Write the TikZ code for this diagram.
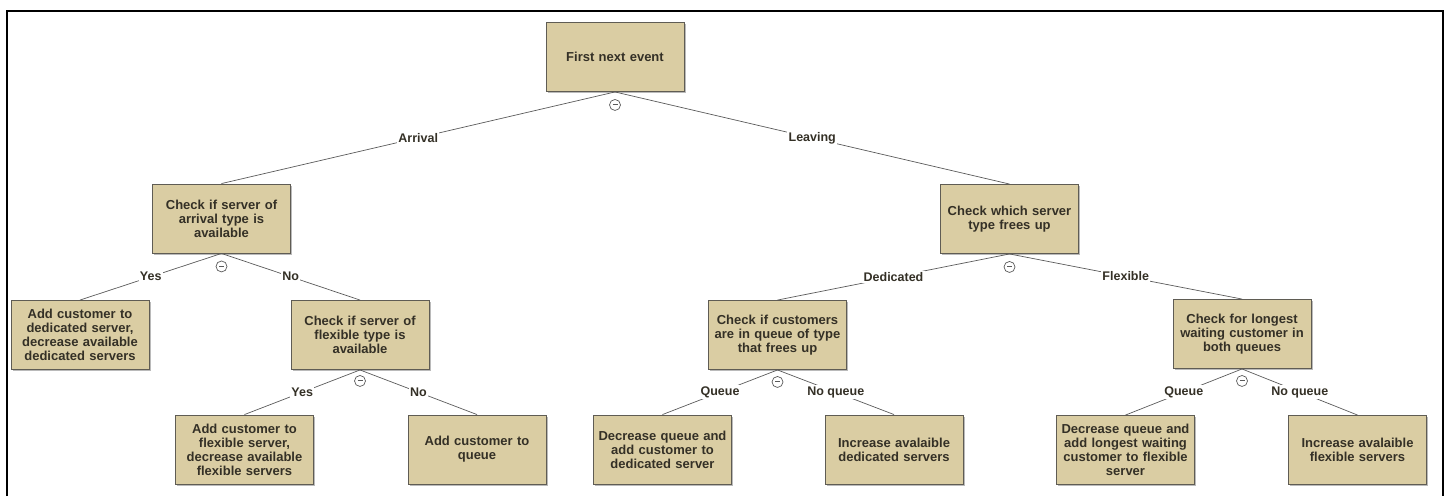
\documentclass[tikz,border=0pt]{standalone}
\usepackage{fontspec}
\setmainfont{Liberation Sans}
\usetikzlibrary{shadows}
\definecolor{boxfill}{RGB}{218,205,163}
\definecolor{boxedge}{RGB}{95,92,84}
\definecolor{txt}{RGB}{52,48,38}
\definecolor{linec}{RGB}{90,90,90}
\begin{document}
\begin{tikzpicture}[x=1pt,y=-1pt,
  box/.style={draw=boxedge, fill=boxfill, line width=0.9pt,
    minimum width=138pt, minimum height=69pt, text width=134pt,
    align=center, inner sep=0pt, text=txt,
    font=\bfseries\fontsize{13}{14}\selectfont,
    drop shadow={shadow xshift=1.5pt, shadow yshift=-1.5pt, fill=black!45, opacity=0.6}},
  edge/.style={draw=linec, line width=0.7pt},
  lab/.style={fill=white, text=txt, inner sep=1.2pt,
    font=\bfseries\fontsize{12.5}{14}\selectfont},
  collapse/.style={circle, draw=linec, line width=0.7pt, minimum size=11pt, inner sep=0pt,
    path picture={\draw[linec, line width=1pt]
      ([xshift=-2.5pt]path picture bounding box.center) -- ([xshift=2.5pt]path picture bounding box.center);}}]
\useasboundingbox (0,0) rectangle (1447,496);

% frame
\draw[black, line width=2pt] (7,496) -- (7,11) -- (1443,11) -- (1443,496);

% boxes
\node[box] (root) at (615,57) {First next event};
\node[box] (arr) at (221.5,218.5) {Check if server of\\arrival type is\\available};
\node[box] (ded) at (80,335) {Add customer to\\dedicated server,\\decrease available\\dedicated servers};
\node[box] (flxchk) at (360,335) {Check if server of\\flexible type is\\available};
\node[box] (addflex) at (244.5,449.5) {Add customer to\\flexible server,\\decrease available\\flexible servers};
\node[box] (addq) at (477,449.5) {Add customer to\\queue};
\node[box] (which) at (1009.5,219) {Check which server\\type frees up};
\node[box] (custq) at (777.5,335) {Check if customers\\are in queue of type\\that frees up};
\node[box] (decq) at (662.5,449.5) {Decrease queue and\\add customer to\\dedicated server};
\node[box] (incded) at (894,449.5) {Increase avalaible\\dedicated servers};
\node[box] (longest) at (1242,334) {Check for longest\\waiting customer in\\both queues};
\node[box] (declong) at (1125.5,450) {Decrease queue and\\add longest waiting\\customer to flexible\\server};
\node[box] (incflex) at (1357.5,450) {Increase avalaible\\flexible servers};

% connectors
\draw[edge] (root.south) -- node[lab] {Arrival} (arr.north);
\draw[edge] (root.south) -- node[lab] {Leaving} (which.north);
\draw[edge] (arr.south) -- node[lab] {Yes} (ded.north);
\draw[edge] (arr.south) -- node[lab] {No} (flxchk.north);
\draw[edge] (flxchk.south) -- node[lab] {Yes} (addflex.north);
\draw[edge] (flxchk.south) -- node[lab] {No} (addq.north);
\draw[edge] (which.south) -- node[lab] {Dedicated} (custq.north);
\draw[edge] (which.south) -- node[lab] {Flexible} (longest.north);
\draw[edge] (custq.south) -- node[lab] {Queue} (decq.north);
\draw[edge] (custq.south) -- node[lab] {No queue} (incded.north);
\draw[edge] (longest.south) -- node[lab] {Queue} (declong.north);
\draw[edge] (longest.south) -- node[lab] {No queue} (incflex.north);

% collapse markers
\node[collapse] (c0) at ([yshift=-13pt]root.south) {};
\node[collapse] (c1) at ([yshift=-13pt]arr.south) {};
\node[collapse] (c2) at ([yshift=-11pt]flxchk.south) {};
\node[collapse] (c3) at ([yshift=-13pt]which.south) {};
\node[collapse] (c4) at ([yshift=-12pt]custq.south) {};
\node[collapse] (c5) at ([yshift=-12pt]longest.south) {};
\end{tikzpicture}
\end{document}
